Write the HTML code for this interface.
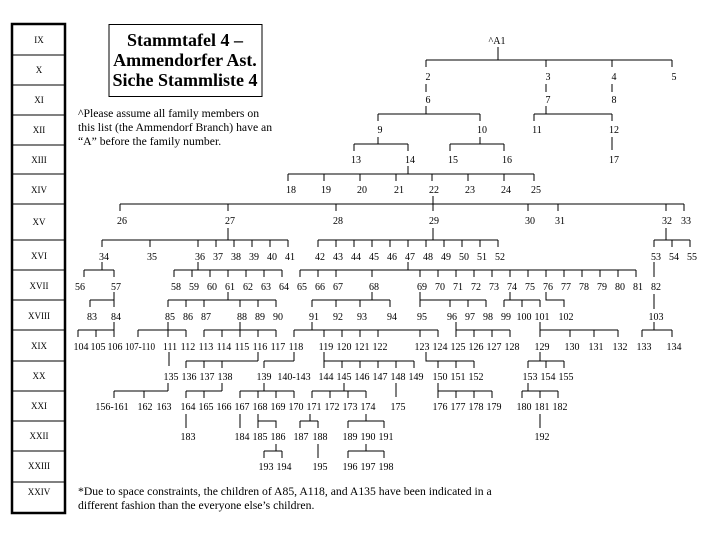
<!DOCTYPE html>
<html><head><meta charset="utf-8"><style>
html,body{margin:0;padding:0;background:#fff;}
svg{display:block;}
text{font-family:"Liberation Serif",serif;font-size:10px;fill:#000;}
.n{text-anchor:middle;}
.t{font-size:18px;font-weight:bold;text-anchor:middle;}
.r{text-anchor:middle;font-size:9px;}
.f{font-size:11.7px;}
</style></head><body>
<svg width="720" height="540" viewBox="0 0 720 540" xmlns="http://www.w3.org/2000/svg">
<rect x="12" y="24" width="53" height="489" fill="none" stroke="#000" stroke-width="2.5"/>
<path d="M12 55H65M12 85H65M12 115H65M12 145H65M12 174H65M12 204H65M12 240H65M12 270H65M12 300H65M12 330H65M12 361H65M12 391H65M12 421H65M12 451H65M12 482H65" stroke="#000" stroke-width="1"/>
<g class="r">
<text class="r" x="39" y="43">IX</text><text class="r" x="39" y="73">X</text><text class="r" x="39" y="103">XI</text><text class="r" x="39" y="133">XII</text><text class="r" x="39" y="163">XIII</text><text class="r" x="39" y="193">XIV</text><text class="r" x="39" y="225">XV</text><text class="r" x="39" y="259">XVI</text><text class="r" x="39" y="289">XVII</text><text class="r" x="39" y="319">XVIII</text><text class="r" x="39" y="349">XIX</text><text class="r" x="39" y="379">XX</text><text class="r" x="39" y="409">XXI</text><text class="r" x="39" y="439">XXII</text><text class="r" x="39" y="469">XXIII</text><text class="r" x="39" y="495">XXIV</text>
</g>
<rect x="109" y="24.5" width="153" height="72" fill="none" stroke="#000" stroke-width="1"/>
<text class="t" x="185" y="46">Stammtafel 4 –</text>
<text class="t" x="185" y="66">Ammendorfer Ast.</text>
<text class="t" x="185" y="86">Siche Stammliste 4</text>
<text class="f" x="78" y="117">^Please assume all family members on</text>
<text class="f" x="78" y="131">this list (the Ammendorf Branch) have an</text>
<text class="f" x="78" y="145">“A” before the family number.</text>
<text class="f" x="78" y="495">*Due to space constraints, the children of A85, A118, and A135 have been indicated in a</text>
<text class="f" x="78" y="509">different fashion than the everyone else’s children.</text>

<g stroke="#000" stroke-width="1" fill="none">
<path d="M498 47V60M426 60H672M426 60V67M546 60V67M612 60V67M672 60V67"/>
<path d="M426 84V92M546 84V92M612 84V92"/>
<path d="M426 106V114M378 114H480M378 114V121M480 114V121"/>
<path d="M546 106V114M534 114H612M534 114V121M612 114V121"/>
<path d="M612 137V150"/>
<path d="M378 137V144M354 144H408M354 144V151M408 144V151"/>
<path d="M480 137V144M450 144H504M450 144V151M504 144V151"/>
<path d="M408 166V174M288 174H534M288 174V181M324 174V181M360 174V181M396 174V181M432 174V181M468 174V181M504 174V181M534 174V181"/>
<path d="M433 196V204M120 204H684M120 204V211M228 204V211M336 204V211M433 204V211M528 204V211M558 204V211M666 204V211M684 204V211"/>
<path d="M228 228V240M102 240H288M102 240V247M150 240V247M198 240V247M216 240V247M234 240V247M252 240V247M270 240V247M288 240V247"/>
<path d="M433 228V240M318 240H498M318 240V247M336 240V247M354 240V247M372 240V247M390 240V247M408 240V247M426 240V247M444 240V247M462 240V247M480 240V247M498 240V247"/>
<path d="M666 228V240M654 240H690M654 240V247M672 240V247M690 240V247"/>
<path d="M102 262V270M84 270H114M84 270V277M114 270V277"/>
<path d="M198 262V270M174 270H282M174 270V277M192 270V277M210 270V277M228 270V277M246 270V277M264 270V277M282 270V277"/>
<path d="M408 262V270M300 270H636M300 270V277M318 270V277M336 270V277M372 270V277M420 270V277M438 270V277M456 270V277M474 270V277M492 270V277M510 270V277M528 270V277M546 270V277M564 270V277M582 270V277M600 270V277M618 270V277M636 270V277"/>
<path d="M654 262V277"/>
<path d="M114 292V300M90 300H114M90 300V307M114 300V307"/>
<path d="M228 292V300M168 300H276M168 300V307M186 300V307M204 300V307M240 300V307M258 300V307M276 300V307"/>
<path d="M372 292V300M312 300H390M312 300V307M336 300V307M360 300V307M390 300V307"/>
<path d="M420 292V307M420 300H486M450 300V307M468 300V307M486 300V307"/>
<path d="M510 292V300M504 300H540M504 300V307M522 300V307M540 300V307"/>
<path d="M546 292V300H564V307"/>
<path d="M654 294V309"/>
<path d="M114 322V337M78 330H114M78 330V337M96 330V337"/>
<path d="M168 322V337M138 330H186M138 330V337M186 330V337"/>
<path d="M240 322V337M204 330H276M204 330V337M222 330V337M258 330V337M276 330V337"/>
<path d="M312 322V330M294 330H438M294 330V337M324 330V337M342 330V337M360 330V337M378 330V337M420 330V337M438 330V337"/>
<path d="M456 322V337M456 330H510M474 330V337M492 330V337M510 330V337"/>
<path d="M540 322V337M540 330H618M570 330V337M594 330V337M618 330V337"/>
<path d="M654 322V330M642 330H672M642 330V337M672 330V337"/>
<path d="M169 352V366"/>
<path d="M258 352V361M186 361H258M186 361V368M204 361V368M222 361V368"/>
<path d="M294 352V361M264 361H294M264 361V368"/>
<path d="M324 352V368M324 361H414M342 361V368M360 361V368M378 361V368M396 361V368M414 361V368"/>
<path d="M426 352V361H474M438 361V368M456 361V368M474 361V368"/>
<path d="M540 352V361M528 361H564M528 361V368M546 361V368M564 361V368"/>
<path d="M168 383V391M114 391H168M114 391V398M144 391V398"/>
<path d="M222 383V391M186 391H222M186 391V398M204 391V398"/>
<path d="M264 383V391M240 391H294M240 391V398M258 391V398M276 391V398M294 391V398"/>
<path d="M344 383V391M312 391H366M312 391V398M330 391V398M348 391V398M366 391V398"/>
<path d="M396 383V397"/>
<path d="M438 383V398M438 391H492M456 391V398M474 391V398M492 391V398"/>
<path d="M528 383V391M522 391H558M522 391V398M540 391V398M558 391V398"/>
<path d="M186 414V428M240 414V428"/>
<path d="M258 414V428M258 421H276V428"/>
<path d="M310 414V421M300 421H318M300 421V428M318 421V428"/>
<path d="M366 414V421M348 421H384M348 421V428M384 421V428"/>
<path d="M540 414V428"/>
<path d="M276 444V451M264 451H282M264 451V458M282 451V458"/>
<path d="M318 444V458"/>
<path d="M366 444V451M348 451H384M348 451V458M384 451V458"/>
</g>

<g class="n">
<text class="n" x="497" y="44">^A1</text>
<text class="n" x="428" y="80">2</text><text class="n" x="548" y="80">3</text><text class="n" x="614" y="80">4</text><text class="n" x="674" y="80">5</text>
<text class="n" x="428" y="103">6</text><text class="n" x="548" y="103">7</text><text class="n" x="614" y="103">8</text>
<text class="n" x="380" y="133">9</text><text class="n" x="482" y="133">10</text><text class="n" x="537" y="133">11</text><text class="n" x="614" y="133">12</text>
<text class="n" x="356" y="163">13</text><text class="n" x="410" y="163">14</text><text class="n" x="453" y="163">15</text><text class="n" x="507" y="163">16</text><text class="n" x="614" y="163">17</text>
<text class="n" x="291" y="193">18</text><text class="n" x="326" y="193">19</text><text class="n" x="362" y="193">20</text><text class="n" x="399" y="193">21</text><text class="n" x="434" y="193">22</text><text class="n" x="470" y="193">23</text><text class="n" x="506" y="193">24</text><text class="n" x="536" y="193">25</text>
<text class="n" x="122" y="224">26</text><text class="n" x="230" y="224">27</text><text class="n" x="338" y="224">28</text><text class="n" x="434" y="224">29</text><text class="n" x="530" y="224">30</text><text class="n" x="560" y="224">31</text><text class="n" x="667" y="224">32</text><text class="n" x="686" y="224">33</text>
<text class="n" x="104" y="260">34</text><text class="n" x="152" y="260">35</text><text class="n" x="200" y="260">36</text><text class="n" x="218" y="260">37</text><text class="n" x="236" y="260">38</text><text class="n" x="254" y="260">39</text><text class="n" x="272" y="260">40</text><text class="n" x="290" y="260">41</text>
<text class="n" x="320" y="260">42</text><text class="n" x="338" y="260">43</text><text class="n" x="356" y="260">44</text><text class="n" x="374" y="260">45</text><text class="n" x="392" y="260">46</text><text class="n" x="410" y="260">47</text><text class="n" x="428" y="260">48</text><text class="n" x="446" y="260">49</text><text class="n" x="464" y="260">50</text><text class="n" x="482" y="260">51</text><text class="n" x="500" y="260">52</text>
<text class="n" x="656" y="260">53</text><text class="n" x="674" y="260">54</text><text class="n" x="692" y="260">55</text>
<text class="n" x="80" y="290">56</text><text class="n" x="116" y="290">57</text>
<text class="n" x="176" y="290">58</text><text class="n" x="194" y="290">59</text><text class="n" x="212" y="290">60</text><text class="n" x="230" y="290">61</text><text class="n" x="248" y="290">62</text><text class="n" x="266" y="290">63</text><text class="n" x="284" y="290">64</text>
<text class="n" x="302" y="290">65</text><text class="n" x="320" y="290">66</text><text class="n" x="338" y="290">67</text><text class="n" x="374" y="290">68</text>
<text class="n" x="422" y="290">69</text><text class="n" x="440" y="290">70</text><text class="n" x="458" y="290">71</text><text class="n" x="476" y="290">72</text><text class="n" x="494" y="290">73</text><text class="n" x="512" y="290">74</text><text class="n" x="530" y="290">75</text><text class="n" x="548" y="290">76</text><text class="n" x="566" y="290">77</text><text class="n" x="584" y="290">78</text><text class="n" x="602" y="290">79</text><text class="n" x="620" y="290">80</text><text class="n" x="638" y="290">81</text><text class="n" x="656" y="290">82</text>
<text class="n" x="92" y="320">83</text><text class="n" x="116" y="320">84</text>
<text class="n" x="170" y="320">85</text><text class="n" x="188" y="320">86</text><text class="n" x="206" y="320">87</text><text class="n" x="242" y="320">88</text><text class="n" x="260" y="320">89</text><text class="n" x="278" y="320">90</text>
<text class="n" x="314" y="320">91</text><text class="n" x="338" y="320">92</text><text class="n" x="362" y="320">93</text><text class="n" x="392" y="320">94</text>
<text class="n" x="422" y="320">95</text><text class="n" x="452" y="320">96</text><text class="n" x="470" y="320">97</text><text class="n" x="488" y="320">98</text>
<text class="n" x="506" y="320">99</text><text class="n" x="524" y="320">100</text><text class="n" x="542" y="320">101</text><text class="n" x="566" y="320">102</text><text class="n" x="656" y="320">103</text>
<text class="n" x="81" y="350">104</text><text class="n" x="98" y="350">105</text><text class="n" x="115" y="350">106</text><text class="n" x="140" y="350" textLength="30" lengthAdjust="spacingAndGlyphs">107-110</text><text class="n" x="170" y="350">111</text><text class="n" x="188" y="350">112</text>
<text class="n" x="206" y="350">113</text><text class="n" x="224" y="350">114</text><text class="n" x="242" y="350">115</text><text class="n" x="260" y="350">116</text><text class="n" x="278" y="350">117</text><text class="n" x="296" y="350">118</text>
<text class="n" x="326" y="350">119</text><text class="n" x="344" y="350">120</text><text class="n" x="362" y="350">121</text><text class="n" x="380" y="350">122</text><text class="n" x="422" y="350">123</text><text class="n" x="440" y="350">124</text>
<text class="n" x="458" y="350">125</text><text class="n" x="476" y="350">126</text><text class="n" x="494" y="350">127</text><text class="n" x="512" y="350">128</text>
<text class="n" x="542" y="350">129</text><text class="n" x="572" y="350">130</text><text class="n" x="596" y="350">131</text><text class="n" x="620" y="350">132</text><text class="n" x="644" y="350">133</text><text class="n" x="674" y="350">134</text>
<text class="n" x="171" y="380">135</text><text class="n" x="189" y="380">136</text><text class="n" x="207" y="380">137</text><text class="n" x="225" y="380">138</text>
<text class="n" x="264" y="380">139</text><text class="n" x="294" y="380">140-143</text>
<text class="n" x="326" y="380">144</text><text class="n" x="344" y="380">145</text><text class="n" x="362" y="380">146</text><text class="n" x="380" y="380">147</text><text class="n" x="398" y="380">148</text><text class="n" x="416" y="380">149</text>
<text class="n" x="440" y="380">150</text><text class="n" x="458" y="380">151</text><text class="n" x="476" y="380">152</text>
<text class="n" x="530" y="380">153</text><text class="n" x="548" y="380">154</text><text class="n" x="566" y="380">155</text>
<text class="n" x="112" y="410">156-161</text><text class="n" x="145" y="410">162</text><text class="n" x="164" y="410">163</text>
<text class="n" x="188" y="410">164</text><text class="n" x="206" y="410">165</text><text class="n" x="224" y="410">166</text>
<text class="n" x="242" y="410">167</text><text class="n" x="260" y="410">168</text><text class="n" x="278" y="410">169</text><text class="n" x="296" y="410">170</text>
<text class="n" x="314" y="410">171</text><text class="n" x="332" y="410">172</text><text class="n" x="350" y="410">173</text><text class="n" x="368" y="410">174</text><text class="n" x="398" y="410">175</text>
<text class="n" x="440" y="410">176</text><text class="n" x="458" y="410">177</text><text class="n" x="476" y="410">178</text><text class="n" x="494" y="410">179</text>
<text class="n" x="524" y="410">180</text><text class="n" x="542" y="410">181</text><text class="n" x="560" y="410">182</text>
<text class="n" x="188" y="440">183</text><text class="n" x="242" y="440">184</text><text class="n" x="260" y="440">185</text><text class="n" x="278" y="440">186</text>
<text class="n" x="301" y="440">187</text><text class="n" x="320" y="440">188</text>
<text class="n" x="350" y="440">189</text><text class="n" x="368" y="440">190</text><text class="n" x="386" y="440">191</text><text class="n" x="542" y="440">192</text>
<text class="n" x="266" y="470">193</text><text class="n" x="284" y="470">194</text><text class="n" x="320" y="470">195</text>
<text class="n" x="350" y="470">196</text><text class="n" x="368" y="470">197</text><text class="n" x="386" y="470">198</text>
</g>
</svg>
</body></html>
